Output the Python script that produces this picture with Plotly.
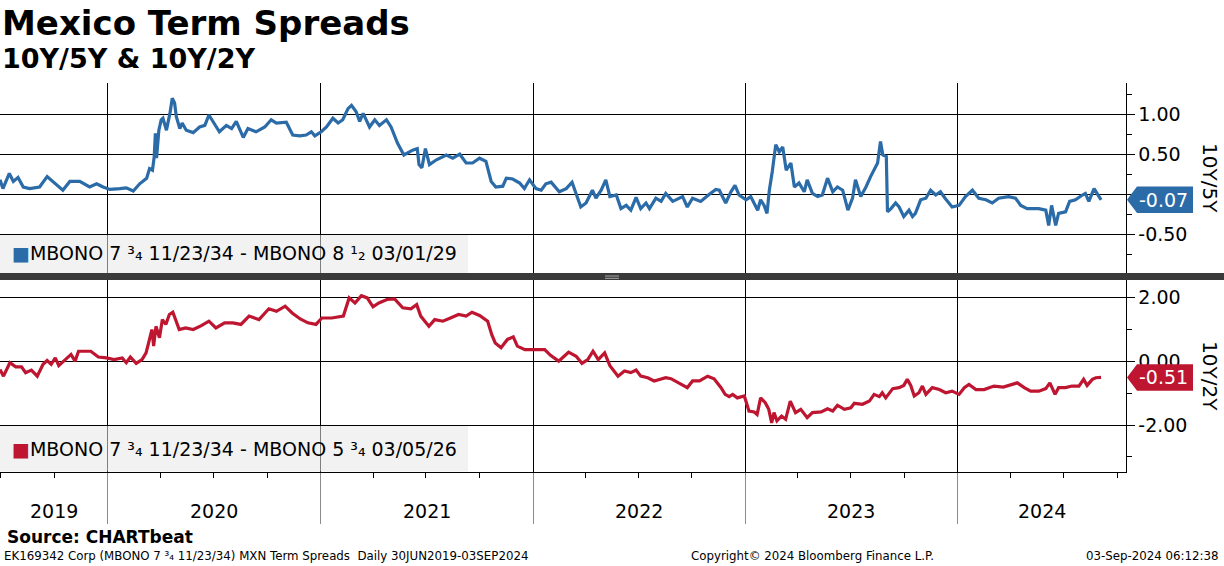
import datetime as dt
import plotly.graph_objects as go

# ---------------- data ----------------
blue_dates = [
    "2019-06-30", "2019-07-05", "2019-07-16", "2019-07-23", "2019-07-31", "2019-08-09", "2019-08-20",
    "2019-09-06", "2019-09-19", "2019-10-02", "2019-10-16", "2019-10-28", "2019-11-14", "2019-12-01",
    "2019-12-13", "2019-12-24",
    "2020-01-05", "2020-01-22", "2020-02-02", "2020-02-14", "2020-02-25", "2020-03-08", "2020-03-13",
    "2020-03-18", "2020-03-21", "2020-03-23", "2020-03-25", "2020-03-29", "2020-04-02", "2020-04-05",
    "2020-04-11", "2020-04-17", "2020-04-21", "2020-04-25", "2020-04-28", "2020-05-04", "2020-05-08",
    "2020-05-15", "2020-05-27", "2020-06-07", "2020-06-16", "2020-06-23", "2020-06-30", "2020-07-11",
    "2020-07-23", "2020-08-01", "2020-08-09", "2020-08-21", "2020-08-29", "2020-09-12", "2020-09-27",
    "2020-10-08", "2020-10-17", "2020-11-03", "2020-11-14", "2020-11-26", "2020-12-07", "2020-12-16",
    "2020-12-22",
    "2021-01-02", "2021-01-11", "2021-01-22", "2021-01-31", "2021-02-08", "2021-02-17", "2021-02-23",
    "2021-03-03", "2021-03-09", "2021-03-15", "2021-03-26", "2021-04-04", "2021-04-12", "2021-04-24",
    "2021-05-02", "2021-05-13", "2021-05-24", "2021-06-08", "2021-06-16", "2021-06-19", "2021-06-24",
    "2021-06-30", "2021-07-07", "2021-07-19", "2021-08-05", "2021-08-16", "2021-08-28", "2021-09-08",
    "2021-09-19", "2021-10-01", "2021-10-12", "2021-10-21", "2021-10-29", "2021-11-10", "2021-11-16",
    "2021-11-27", "2021-12-09", "2021-12-17", "2021-12-26",
    "2022-01-06", "2022-01-15", "2022-01-23", "2022-02-01", "2022-02-15", "2022-02-27", "2022-03-09",
    "2022-03-16", "2022-03-24", "2022-04-02", "2022-04-13", "2022-04-19", "2022-04-28", "2022-05-06",
    "2022-05-13", "2022-05-24", "2022-06-01", "2022-06-10", "2022-06-18", "2022-06-27", "2022-07-05",
    "2022-07-14", "2022-07-20", "2022-07-31", "2022-08-09", "2022-08-17", "2022-08-29", "2022-09-15",
    "2022-09-23", "2022-10-02", "2022-10-16", "2022-10-31", "2022-11-11", "2022-11-17", "2022-11-28",
    "2022-12-07", "2022-12-14", "2022-12-21",
    "2023-01-02", "2023-01-10", "2023-01-22", "2023-01-27", "2023-02-02", "2023-02-07", "2023-02-11",
    "2023-02-16", "2023-02-22", "2023-02-28", "2023-03-06", "2023-03-12", "2023-03-20", "2023-03-26",
    "2023-04-03", "2023-04-12", "2023-04-17", "2023-04-26", "2023-05-05", "2023-05-13", "2023-05-22",
    "2023-05-31", "2023-06-08", "2023-06-17", "2023-06-26", "2023-07-04", "2023-07-09", "2023-07-18",
    "2023-07-27", "2023-08-04", "2023-08-10", "2023-08-16", "2023-08-21", "2023-08-25", "2023-08-31",
    "2023-09-02", "2023-09-08", "2023-09-16", "2023-09-22", "2023-09-30", "2023-10-09", "2023-10-15",
    "2023-10-20", "2023-10-29", "2023-11-07", "2023-11-15", "2023-11-24", "2023-12-02", "2023-12-10",
    "2023-12-22",
    "2024-01-03", "2024-01-14", "2024-01-26", "2024-02-06", "2024-02-18", "2024-02-29", "2024-03-11",
    "2024-03-28", "2024-04-09", "2024-04-18", "2024-04-29", "2024-05-08", "2024-05-19", "2024-05-31",
    "2024-06-05", "2024-06-10", "2024-06-17", "2024-06-22", "2024-07-04", "2024-07-11", "2024-07-21",
    "2024-08-02", "2024-08-07", "2024-08-13", "2024-08-22", "2024-09-03",
]
blue_values = [
    0.18, 0.07, 0.26, 0.16, 0.21, 0.09, 0.07,
    0.09, 0.22, 0.14, 0.05, 0.16, 0.16, 0.09,
    0.13, 0.09,
    0.06, 0.07, 0.08, 0.04, 0.13, 0.20, 0.32,
    0.30, 0.47, 0.76, 0.45, 0.80, 0.93, 0.95,
    0.80, 1.01, 1.20, 1.14, 0.97, 0.82, 0.89,
    0.80, 0.77, 0.84, 0.86, 0.99, 0.91, 0.78,
    0.86, 0.82, 0.91, 0.71, 0.82, 0.78, 0.84,
    0.93, 0.89, 0.90, 0.74, 0.73, 0.74, 0.78,
    0.73,
    0.78, 0.84, 0.95, 0.89, 0.93, 1.07, 1.11,
    1.03, 0.91, 1.01, 0.84, 0.93, 0.86, 0.93,
    0.84, 0.64, 0.49, 0.55, 0.57, 0.37, 0.33,
    0.57, 0.37, 0.43, 0.49, 0.45, 0.50, 0.39,
    0.39, 0.45, 0.41, 0.16, 0.09, 0.10, 0.20,
    0.19, 0.14, 0.07, 0.18,
    0.07, 0.05, 0.13, 0.15, 0.03, 0.07, 0.15,
    0.01, -0.16, -0.11, 0.05, -0.05, 0.05, 0.18,
    -0.03, -0.01, -0.18, -0.14, -0.20, -0.04, -0.18,
    -0.11, -0.18, -0.05, -0.09, 0.01, -0.09, -0.03,
    -0.16, -0.05, -0.09, 0.00, 0.06, 0.05, -0.11,
    0.03, 0.11, -0.01,
    -0.07, -0.03, -0.20, -0.07, -0.14, -0.24, 0.05,
    0.28, 0.62, 0.53, 0.59, 0.30, 0.39, 0.09,
    0.14, 0.03, 0.18, 0.01, -0.03, -0.01, 0.20,
    0.03, 0.09, 0.05, -0.20, -0.05, 0.18, -0.03,
    0.09, 0.22, 0.30, 0.39, 0.66, 0.49, 0.47,
    -0.22, -0.18, -0.11, -0.16, -0.28, -0.20, -0.28,
    -0.24, -0.07, -0.05, 0.05, -0.01, 0.03, -0.05,
    -0.16,
    -0.14, -0.03, 0.05, -0.05, -0.07, -0.11, -0.05,
    -0.03, -0.05, -0.14, -0.18, -0.18, -0.18, -0.20,
    -0.39, -0.14, -0.39, -0.24, -0.22, -0.09, -0.07,
    -0.01, 0.01, -0.09, 0.07, -0.07,
]

red_dates = [
    "2019-06-30", "2019-07-06", "2019-07-17", "2019-07-27", "2019-08-06", "2019-08-13", "2019-08-23",
    "2019-09-02", "2019-09-12", "2019-09-19", "2019-09-26", "2019-10-03", "2019-10-09", "2019-10-23",
    "2019-10-30", "2019-11-06", "2019-11-12", "2019-12-03", "2019-12-16", "2019-12-30",
    "2020-01-12", "2020-01-26", "2020-02-02", "2020-02-09", "2020-02-19", "2020-02-29", "2020-03-07",
    "2020-03-12", "2020-03-17", "2020-03-20", "2020-03-24", "2020-03-30", "2020-04-04", "2020-04-10",
    "2020-04-16", "2020-04-22", "2020-04-27", "2020-05-03", "2020-05-14", "2020-05-27", "2020-06-10",
    "2020-06-23", "2020-07-05", "2020-07-20", "2020-08-03", "2020-08-17", "2020-08-31", "2020-09-17",
    "2020-10-04", "2020-10-17", "2020-11-01", "2020-11-13", "2020-11-27", "2020-12-10", "2020-12-24",
    "2021-01-03", "2021-01-20", "2021-02-09", "2021-02-19", "2021-03-01", "2021-03-12", "2021-03-22",
    "2021-04-01", "2021-04-11", "2021-04-25", "2021-05-08", "2021-05-22", "2021-06-05", "2021-06-15",
    "2021-06-22", "2021-06-29", "2021-07-06", "2021-07-16", "2021-07-30", "2021-08-12", "2021-08-26",
    "2021-09-08", "2021-09-18", "2021-10-01", "2021-10-15", "2021-10-22", "2021-10-28", "2021-11-07",
    "2021-11-18", "2021-11-28", "2021-12-05", "2021-12-18",
    "2022-01-01", "2022-01-21", "2022-01-31", "2022-02-14", "2022-03-03", "2022-03-16", "2022-03-26",
    "2022-04-05", "2022-04-14", "2022-04-23", "2022-05-04", "2022-05-13", "2022-05-27", "2022-06-07",
    "2022-06-18", "2022-06-27", "2022-07-05", "2022-07-17", "2022-07-28", "2022-08-06", "2022-08-17",
    "2022-08-26", "2022-09-09", "2022-09-23", "2022-10-02", "2022-10-14", "2022-10-28", "2022-11-08",
    "2022-11-20", "2022-11-27", "2022-12-04", "2022-12-10", "2022-12-18", "2022-12-30",
    "2023-01-07", "2023-01-16", "2023-01-21", "2023-01-27", "2023-02-04", "2023-02-10", "2023-02-15",
    "2023-02-19", "2023-02-24", "2023-03-04", "2023-03-11", "2023-03-19", "2023-03-28", "2023-04-06",
    "2023-04-17", "2023-04-26", "2023-05-11", "2023-05-22", "2023-05-31", "2023-06-08", "2023-06-20",
    "2023-07-01", "2023-07-07", "2023-07-21", "2023-08-02", "2023-08-10", "2023-08-19", "2023-08-24",
    "2023-08-30", "2023-09-11", "2023-09-22", "2023-09-30", "2023-10-06", "2023-10-12", "2023-10-18",
    "2023-10-26", "2023-11-01", "2023-11-07", "2023-11-18", "2023-11-30", "2023-12-11", "2023-12-22",
    "2024-01-03", "2024-01-12", "2024-01-20", "2024-02-01", "2024-02-15", "2024-03-03", "2024-03-19",
    "2024-04-12", "2024-04-24", "2024-05-05", "2024-05-19", "2024-05-31", "2024-06-07", "2024-06-16",
    "2024-06-22", "2024-07-04", "2024-07-15", "2024-07-27", "2024-08-04", "2024-08-10", "2024-08-19",
    "2024-08-25", "2024-09-03",
]
red_values = [
    -0.26, -0.47, -0.05, -0.18, -0.18, -0.36, -0.28,
    -0.47, -0.10, 0.02, -0.10, 0.10, -0.14, 0.10,
    0.21, 0.00, 0.31, 0.31, 0.13, 0.10,
    0.05, 0.10, -0.05, 0.13, -0.07, 0.05, 0.26,
    0.62, 0.99, 0.47, 1.09, 0.73, 1.30, 1.15,
    1.46, 1.53, 1.30, 0.99, 1.04, 0.99, 1.11,
    1.25, 1.04, 1.20, 1.20, 1.15, 1.41, 1.30,
    1.64, 1.56, 1.72, 1.51, 1.32, 1.20, 1.15,
    1.35, 1.35, 1.41, 1.98, 1.82, 2.05, 1.98,
    1.70, 1.82, 1.93, 1.95, 1.67, 1.64, 1.77,
    1.41, 1.25, 1.09, 1.30, 1.25, 1.35, 1.46,
    1.41, 1.53, 1.43, 1.25, 0.83, 0.57, 0.42,
    0.68, 0.76, 0.47, 0.36,
    0.36, 0.36, 0.18, 0.00, 0.28, 0.15, -0.07,
    0.05, 0.31, 0.05, 0.26, -0.14, -0.47, -0.31,
    -0.36, -0.28, -0.47, -0.52, -0.62, -0.57, -0.52,
    -0.55, -0.68, -0.83, -0.62, -0.62, -0.47, -0.55,
    -0.83, -1.04, -1.11, -1.04, -1.15, -1.09,
    -1.56, -1.59, -1.67, -1.15, -1.30, -1.51, -1.93,
    -1.61, -1.87, -1.72, -1.82, -1.25, -1.61, -1.51,
    -1.77, -1.61, -1.59, -1.49, -1.56, -1.38, -1.51,
    -1.46, -1.32, -1.35, -1.25, -1.04, -1.11, -0.99,
    -1.15, -0.86, -0.83, -0.76, -0.57, -0.76, -1.09,
    -0.99, -0.78, -1.04, -0.83, -0.89, -0.99, -0.94,
    -1.04, -0.83, -0.73, -0.89, -0.89, -0.78, -0.81,
    -0.68, -0.83, -0.94, -0.94, -0.86, -0.68, -1.04,
    -0.83, -0.83, -0.78, -0.78, -0.57, -0.76, -0.57,
    -0.52, -0.51,
]

blue_name = "MBONO 7 ³₄ 11/23/34 - MBONO 8 ¹₂ 03/01/29"
red_name = "MBONO 7 ³₄ 11/23/34 - MBONO 5 ³₄ 03/05/26"
blue_axis_title = "10Y/5Y"
red_axis_title = "10Y/2Y"
year_labels = [2019, 2020, 2021, 2022, 2023, 2024]
x_range = ["2019-06-30", "2024-10-15"]
top_range = [-0.985, 1.39]
bottom_range = [-3.47, 2.54]
# the top panel's 0.00 label sits fully behind the last-value tag in the reference
top_tickvals = [-0.5, 0.0, 0.5, 1.0]
top_ticktext = ["-0.50", "", "0.50", "1.00"]
bottom_tickvals = [-2.0, 0.0, 2.0]
bottom_ticktext = ["-2.00", "0.00", "2.00"]

title = "Mexico Term Spreads"
subtitle = "10Y/5Y & 10Y/2Y"
source = "Source: CHARTbeat"
footer_left = "EK169342 Corp (MBONO 7 ³₄ 11/23/34) MXN Term Spreads&nbsp; Daily 30JUN2019-03SEP2024"
footer_mid = "Copyright© 2024 Bloomberg Finance L.P."
footer_right = "03-Sep-2024 06:12:38"

# ---------------- styling / layout helpers ----------------
W, H = 1224, 566
BLUE = "#2b6ba8"
RED = "#be1631"
FONT = "DejaVu Sans"


def px(x):
    return x / W


def py(y):
    return 1 - y / H


plot_right = 1125.5
top_dom = [py(273), py(83)]
bot_dom = [py(472), py(280)]

fig = go.Figure()
fig.add_trace(go.Scatter(x=blue_dates, y=blue_values, mode="lines", name=blue_name,
                         line=dict(color=BLUE, width=3.2), xaxis="x", yaxis="y", showlegend=False))
fig.add_trace(go.Scatter(x=red_dates, y=red_values, mode="lines", name=red_name,
                         line=dict(color=RED, width=3.2), xaxis="x2", yaxis="y2", showlegend=False))

common_x = dict(range=x_range, type="date", showgrid=True, gridcolor="black", gridwidth=1,
                tick0="2020-01-01", dtick="M12", showticklabels=False, zeroline=False)
common_y = dict(side="right", showgrid=True, gridcolor="black", gridwidth=1, zeroline=False,
                ticks="outside", ticklen=8, tickcolor="black", tickwidth=1,
                showline=True, linecolor="black", linewidth=1, tickmode="array",
                tickfont=dict(family=FONT, size=19, color="black"))

fig.update_layout(
    width=W, height=H, autosize=False,
    margin=dict(l=0, r=0, t=0, b=0, pad=0),
    paper_bgcolor="white", plot_bgcolor="white",
    xaxis=dict(domain=[0, px(plot_right)], anchor="y", ticks="", **common_x),
    xaxis2=dict(domain=[0, px(plot_right)], anchor="y2", matches="x",
                showline=True, linecolor="black", linewidth=1,
                ticks="outside", ticklen=51, tickcolor="#8c8c8c", tickwidth=1,
                minor=dict(dtick="M3", tick0="2019-07-01", ticks="outside", ticklen=5,
                           tickcolor="black", showgrid=False),
                **common_x),
    yaxis=dict(domain=top_dom, anchor="x", range=top_range,
               tickvals=top_tickvals, ticktext=top_ticktext,
               minor=dict(dtick=0.25, tick0=0, ticks="outside", ticklen=5, tickcolor="black", showgrid=False),
               **common_y),
    yaxis2=dict(domain=bot_dom, anchor="x2", range=bottom_range,
                tickvals=bottom_tickvals, ticktext=bottom_ticktext,
                minor=dict(dtick=1, tick0=0, ticks="outside", ticklen=5, tickcolor="black", showgrid=False),
                **common_y),
)

shapes = []
annotations = []

# separator bar between panels
shapes.append(dict(type="rect", xref="paper", yref="paper", x0=0, x1=1, y0=py(280), y1=py(273),
                   fillcolor="#3a3a3a", line=dict(width=0), layer="above"))
for yy in (276, 278.3):
    shapes.append(dict(type="line", xref="paper", yref="paper", x0=px(605), x1=px(619),
                       y0=py(yy), y1=py(yy), line=dict(color="#a8a8a8", width=1), layer="above"))

# legend boxes
shapes.append(dict(type="rect", xref="paper", yref="paper", x0=0, x1=px(468), y0=py(273), y1=py(235),
                   fillcolor="rgba(231,231,231,0.55)", line=dict(width=0), layer="above"))
shapes.append(dict(type="rect", xref="paper", yref="paper", x0=0, x1=px(468), y0=py(471.5), y1=py(426),
                   fillcolor="rgba(231,231,231,0.55)", line=dict(width=0), layer="above"))
annotations.append(dict(xref="paper", yref="paper", x=px(10), y=py(252.5), xanchor="left", yanchor="middle",
                        text=f'<span style="color:{BLUE}">■</span>{blue_name}', showarrow=False,
                        font=dict(family=FONT, size=19, color="black")))
annotations.append(dict(xref="paper", yref="paper", x=px(10), y=py(449), xanchor="left", yanchor="middle",
                        text=f'<span style="color:{RED}">■</span>{red_name}', showarrow=False,
                        font=dict(family=FONT, size=19, color="black")))


# last-value tags
def add_tag(last, yref, dom, rng, color):
    dom_px = (dom[1] - dom[0]) * H
    units_per_px = (rng[1] - rng[0]) / dom_px
    h = 13.2 * units_per_px
    x_tip, x_body, x_end = px(1127), px(1137), px(1193)
    path = (f"M {x_tip} {last} L {x_body} {last + h} L {x_end} {last + h} "
            f"L {x_end} {last - h} L {x_body} {last - h} Z")
    shapes.append(dict(type="path", xref="paper", yref=yref, path=path,
                       fillcolor=color, line=dict(width=0), layer="above"))
    annotations.append(dict(xref="paper", yref=yref, x=px(1163.5), y=last, xanchor="center",
                            yanchor="middle", text=f"{last:.2f}", showarrow=False,
                            font=dict(family=FONT, size=19, color="white")))


add_tag(blue_values[-1], "y", top_dom, top_range, BLUE)
add_tag(red_values[-1], "y2", bot_dom, bottom_range, RED)

# rotated axis titles
annotations.append(dict(xref="paper", yref="paper", x=px(1210), y=(top_dom[0] + top_dom[1]) / 2,
                        text=blue_axis_title, textangle=90, showarrow=False, xanchor="center", yanchor="middle",
                        font=dict(family=FONT, size=20, color="black")))
annotations.append(dict(xref="paper", yref="paper", x=px(1210), y=(bot_dom[0] + bot_dom[1]) / 2,
                        text=red_axis_title, textangle=90, showarrow=False, xanchor="center", yanchor="middle",
                        font=dict(family=FONT, size=20, color="black")))

# year labels centred in the visible part of each year
r0 = dt.date.fromisoformat(x_range[0])
r1 = dt.date.fromisoformat(x_range[1])
for yr in year_labels:
    s = max(r0, dt.date(yr, 1, 1))
    e = min(r1, dt.date(yr + 1, 1, 1))
    mid = s + (e - s) / 2
    annotations.append(dict(xref="x2", yref="paper", x=mid.isoformat(), y=py(511), text=str(yr),
                            showarrow=False, xanchor="center", yanchor="middle",
                            font=dict(family=FONT, size=19, color="black")))

# titles and footer
annotations.append(dict(xref="paper", yref="paper", x=px(0), y=py(23), xanchor="left", yanchor="middle",
                        text=f"<b>{title}</b>", showarrow=False,
                        font=dict(family=FONT, size=34, color="black")))
annotations.append(dict(xref="paper", yref="paper", x=px(0), y=py(59), xanchor="left", yanchor="middle",
                        text=f"<b>{subtitle}</b>", showarrow=False,
                        font=dict(family=FONT, size=27, color="black")))
annotations.append(dict(xref="paper", yref="paper", x=px(5), y=py(537), xanchor="left", yanchor="middle",
                        text=f"<b>{source}</b>", showarrow=False,
                        font=dict(family=FONT, size=17, color="black")))
annotations.append(dict(xref="paper", yref="paper", x=px(2), y=py(556), xanchor="left", yanchor="middle",
                        text=footer_left, showarrow=False,
                        font=dict(family=FONT, size=11.8, color="black")))
annotations.append(dict(xref="paper", yref="paper", x=px(689), y=py(556), xanchor="left", yanchor="middle",
                        text=footer_mid, showarrow=False,
                        font=dict(family=FONT, size=11.8, color="black")))
annotations.append(dict(xref="paper", yref="paper", x=px(1221), y=py(556), xanchor="right", yanchor="middle",
                        text=footer_right, showarrow=False,
                        font=dict(family=FONT, size=11.8, color="black")))

fig.update_layout(shapes=shapes, annotations=annotations)
fig.write_html(
    "out.html",
    config={"displayModeBar": False},
    post_script="document.body.style.margin='0';document.body.style.overflow='hidden';",
)
